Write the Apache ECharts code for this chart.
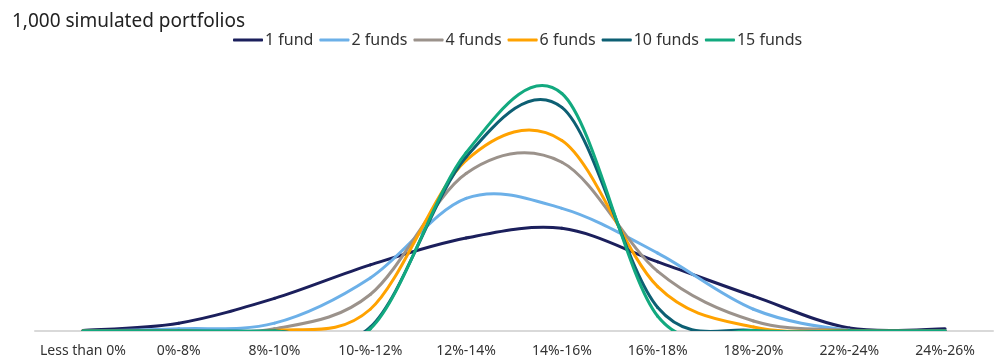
<!DOCTYPE html>
<html>
<head>
<meta charset="utf-8">
<script src="https://cdn.jsdelivr.net/npm/echarts@6/dist/echarts.min.js"></script>
<style>
html,body{margin:0;padding:0;background:#fff;}
#chart{width:995px;height:358px;}
</style>
</head>
<body>
<div id="chart"></div>
<script>
var categories = ["Less than 0%", "0%-8%", "8%-10%", "10-%-12%", "12%-14%", "14%-16%", "16%-18%", "18%-20%", "22%-24%", "24%-26%"];
var fund1  = [1, 18, 75, 152, 214, 236, 159, 80, 7, 5];
var fund2  = [0, 5, 18, 122, 305, 282, 179, 50, 2, 1];
var fund4  = [0, 0, 5, 84, 362, 388, 137, 23, 2, 1];
var fund6  = [0, 0, 1, 50, 392, 438, 102, 9, 1, 0];
var fund10 = [0, 0, 0, 9, 400, 514, 54, 1, 0, 0];
var fund15 = [0, 0, 0, 5, 410, 546, 34, 1, 0, 0];
var seriesNames = ["1 fund", "2 funds", "4 funds", "6 funds", "10 funds", "15 funds"];
var seriesData = [fund1, fund2, fund4, fund6, fund10, fund15];
var colors = ["#1b1f5c", "#6cb0e8", "#9b928b", "#ffa200", "#0d5f73", "#12a97f"];

var FONT = "Noto Sans";
var chart = echarts.init(document.getElementById('chart'));

// Catmull-Rom style smoothing (like spreadsheet "smoothed line"), one bezier segment per data interval
function makeRenderItem(values, color) {
  return function (params, api) {
    var j = params.dataIndex;
    var n = values.length;
    if (j >= n - 1) return null;
    var P = function (k) {
      k = Math.max(0, Math.min(n - 1, k));
      return api.coord([k, values[k]]);
    };
    var p0 = P(j - 1), p1 = P(j), p2 = P(j + 1), p3 = P(j + 2);
    var t = 1 / 6;
    var c1 = [p1[0] + (p2[0] - p0[0]) * t, p1[1] + (p2[1] - p0[1]) * t];
    var c2 = [p2[0] - (p3[0] - p1[0]) * t, p2[1] - (p3[1] - p1[1]) * t];
    var cs = params.coordSys;
    return {
      type: 'bezierCurve',
      shape: {x1: p1[0], y1: p1[1], cpx1: c1[0], cpy1: c1[1], cpx2: c2[0], cpy2: c2[1], x2: p2[0], y2: p2[1]},
      style: {stroke: color, lineWidth: 3, fill: null, lineCap: 'round'},
      clipPath: {type: 'rect', shape: {x: cs.x, y: cs.y - 50, width: cs.width, height: cs.height + 50 + 1}}
    };
  };
}

chart.setOption({
  animation: false,
  color: colors,
  title: {
    text: "1,000 simulated portfolios",
    left: 7, top: 7,
    textStyle: {fontFamily: FONT, fontSize: 19, fontWeight: 'normal', color: '#222'}
  },
  legend: {
    left: 228, top: 27,
    icon: 'roundRect',
    itemWidth: 30, itemHeight: 3,
    itemGap: 6,
    textStyle: {fontFamily: FONT, fontSize: 16, color: '#333', padding: [0, 0, 0, -3]},
    data: seriesNames
  },
  grid: {left: 35, right: 2, top: 70, bottom: 24.5, containLabel: false},
  xAxis: {
    type: 'category',
    data: categories,
    boundaryGap: true,
    axisLine: {lineStyle: {color: '#d9d9d9', width: 2}},
    axisTick: {show: false},
    axisLabel: {fontFamily: FONT, fontSize: 14, color: '#333', margin: 13, interval: 0}
  },
  yAxis: {
    type: 'value', min: 0, max: 600,
    show: false,
    splitLine: {show: false}
  },
  series: seriesNames.map(function (n, i) {
    return {
      name: n, type: 'custom',
      data: seriesData[i].map(function (v, k) { return [k, v]; }),
      encode: {x: 0, y: 1},
      renderItem: makeRenderItem(seriesData[i], colors[i]),
      itemStyle: {color: colors[i]},
      clip: true
    };
  })
});
</script>
</body>
</html>
